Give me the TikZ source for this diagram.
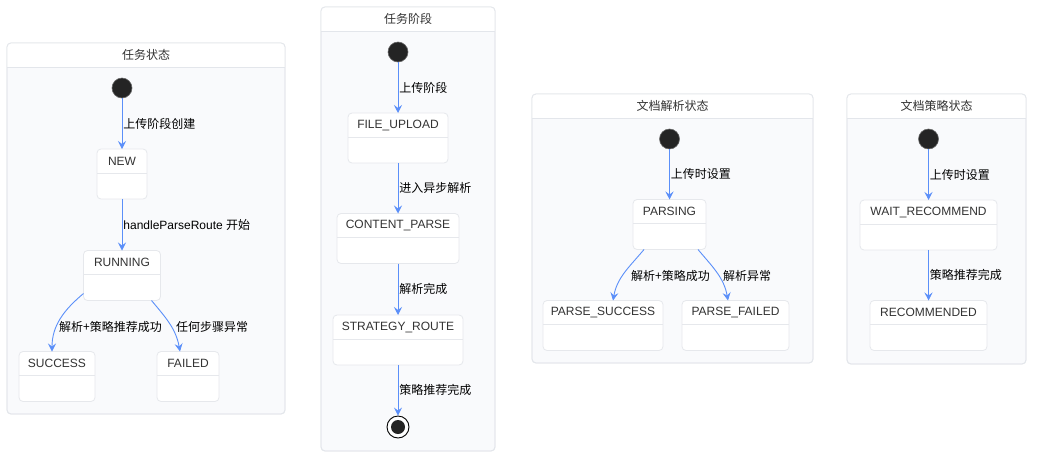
\documentclass[tikz,border=0pt]{standalone}
\usepackage{fontspec}
\setmainfont{Liberation Sans}
\newfontfamily\cjk{Noto Sans CJK SC}
\usetikzlibrary{arrows.meta}
\definecolor{panelbg}{HTML}{F9FAFC}
\definecolor{panelline}{HTML}{E3E6EB}
\definecolor{boxline}{HTML}{E6E8EC}
\definecolor{arrowblue}{HTML}{5B8FF9}
\definecolor{darkdot}{HTML}{242424}
\definecolor{txt}{HTML}{333333}
\newcommand{\mkpanel}[6]{%
  \node[panel, minimum width=#4pt, minimum height=#5pt] (#1) at (#2,#3) {};
  \begin{scope}
    \clip[rounded corners=4pt] (#1.north west) rectangle (#1.south east);
    \fill[white] (#1.north west) rectangle ([yshift=-24pt]#1.north east);
  \end{scope}
  \draw[draw=panelline, line width=0.8pt] ([yshift=-24pt]#1.north west) -- ([yshift=-24pt]#1.north east);
  \draw[draw=panelline, line width=0.8pt, rounded corners=4pt] (#1.north west) rectangle (#1.south east);
  \node[ttl] (#1t) at ([yshift=-12pt]#1.north) {#6};
}
\newcommand{\mkstate}[5]{%
  \node[stbox, minimum width=#4pt] (#1) at (#2,#3) {};
  \draw[draw=boxline, line width=0.8pt] ([yshift=-24pt]#1.north west) -- ([yshift=-24pt]#1.north east);
  \node[stname] (#1n) at ([yshift=-12pt]#1.north) {#5};
}
\begin{document}
\begin{tikzpicture}[x=1pt,y=-1pt,
  panel/.style={draw=panelline, fill=panelbg, rounded corners=4pt, line width=0.8pt, inner sep=0pt, outer sep=0pt},
  stbox/.style={draw=boxline, fill=white, rounded corners=4pt, line width=0.8pt, minimum height=50pt, inner sep=0pt, outer sep=0pt},
  stname/.style={font=\fontsize{12}{14}\selectfont, text=txt, inner sep=0pt},
  ttl/.style={font=\cjk\fontsize{12}{14}\selectfont, text=txt, inner sep=0pt},
  lbl/.style={font=\cjk\fontsize{12}{14}\selectfont, text=black, inner sep=0pt, anchor=west},
  initst/.style={circle, fill=darkdot, draw=darkdot!70, line width=0.6pt, minimum size=20pt, inner sep=0pt},
  tr/.style={draw=arrowblue, line width=0.9pt, -{Stealth[length=8pt,width=8pt,inset=3pt]}},
]
\fill[white] (0,0) rectangle (1041,464);
\useasboundingbox (0,0) rectangle (1041,464);

% ---------- Panel 1 ----------
\mkpanel{p1}{146}{228.5}{278}{371}{任务状态}
\node[initst] (i1) at (122,88) {};
\mkstate{new}{122}{174}{50}{NEW}
\mkstate{running}{122}{275.5}{77}{RUNNING}
\mkstate{success}{57}{376.5}{76}{SUCCESS}
\mkstate{failed}{188}{376.5}{62}{FAILED}
\draw[tr] (i1) -- node[lbl, midway, xshift=1pt] {上传阶段创建} (new);
\draw[tr] (new) -- node[lbl, midway, xshift=1pt, font=\fontsize{12}{14}\selectfont] {handleParseRoute {\cjk 开始}} (running);
\draw[tr] ([yshift=7pt]running.south west) to[out=-140,in=90] ([xshift=-5pt]success.north);
\draw[tr] ([xshift=-9pt]running.south east) to[out=-50,in=100] ([xshift=-8pt]failed.north);
\node[lbl] (l13) at (59,327) {解析+策略推荐成功};
\node[lbl] (l14) at (176,327) {任何步骤异常};

% ---------- Panel 2 ----------
\mkpanel{p2}{408}{229}{174}{444}{任务阶段}
\node[initst] (i2) at (398,52) {};
\mkstate{fileup}{398}{138}{100}{FILE\_UPLOAD}
\mkstate{cparse}{398}{238.5}{122}{CONTENT\_PARSE}
\mkstate{sroute}{398}{340}{130}{STRATEGY\_ROUTE}
\node[circle, draw=black, fill=white, line width=0.9pt, minimum size=22pt, inner sep=0pt] (fin) at (398,427) {};
\node[circle, fill=darkdot, minimum size=14pt, inner sep=0pt] (finin) at (fin) {};
\draw[tr] (i2) -- node[lbl, midway, xshift=1pt] {上传阶段} (fileup);
\draw[tr] (fileup) -- node[lbl, midway, xshift=1pt] {进入异步解析} (cparse);
\draw[tr] (cparse) -- node[lbl, midway, xshift=1pt] {解析完成} (sroute);
\draw[tr] (sroute) -- node[lbl, midway, xshift=1pt] {策略推荐完成} (fin);

% ---------- Panel 3 ----------
\mkpanel{p3}{672.5}{228.5}{281}{269}{文档解析状态}
\node[initst] (i3) at (669.5,139) {};
\mkstate{parsing}{669.5}{224.5}{73}{PARSING}
\mkstate{psucc}{603}{325.5}{120}{PARSE\_SUCCESS}
\mkstate{pfail}{735.5}{325.5}{107}{PARSE\_FAILED}
\draw[tr] (i3) -- node[lbl, midway, xshift=1pt] {上传时设置} (parsing);
\draw[tr] ([xshift=-25.5pt]parsing.south) to[out=-130,in=80] ([xshift=10pt]psucc.north);
\draw[tr] ([xshift=28.5pt]parsing.south) to[out=-50,in=100] ([xshift=-7.5pt]pfail.north);
\node[lbl] (l31) at (631,276) {解析+策略成功};
\node[lbl] (l32) at (723,276) {解析异常};

% ---------- Panel 4 ----------
\mkpanel{p4}{936.5}{229}{179}{270}{文档策略状态}
\node[initst] (i4) at (928.5,139) {};
\mkstate{wait}{928.5}{225}{137}{WAIT\_RECOMMEND}
\mkstate{recd}{928.5}{325.5}{117}{RECOMMENDED}
\draw[tr] (i4) -- node[lbl, midway, xshift=1pt] {上传时设置} (wait);
\draw[tr] (wait) -- node[lbl, midway, xshift=1pt] {策略推荐完成} (recd);
\end{tikzpicture}
\end{document}
